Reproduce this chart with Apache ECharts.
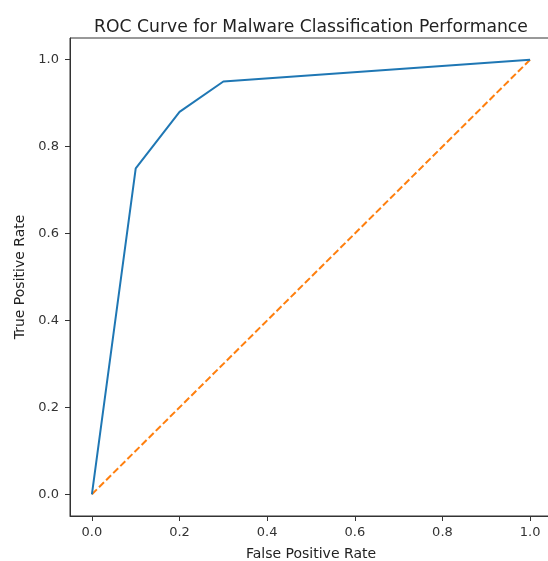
<!DOCTYPE html>
<html>
<head>
<meta charset="utf-8">
<script src="https://cdn.jsdelivr.net/npm/echarts@6/dist/echarts.min.js"></script>
<style>
html,body{margin:0;padding:0;background:#fff;}
#c{width:548px;height:561px;}
</style>
</head>
<body>
<div id="c"></div>
<script>
const fpr = [0.0, 0.1, 0.2, 0.3, 1.0];
const tpr = [0.0, 0.75, 0.88, 0.95, 1.0];
const chanceX = [0.0, 1.0];
const chanceY = [0.0, 1.0];
const tickValues = [0.0, 0.2, 0.4, 0.6, 0.8, 1.0];
const titleText = 'ROC Curve for Malware Classification Performance';
const xName = 'False Positive Rate';
const yName = 'True Positive Rate';

const font = 'DejaVu Sans';
const chart = echarts.init(document.getElementById('c'), null, {renderer: 'canvas'});

function axisCommon(name, gap, margin) {
  return {
    type: 'value',
    min: -0.05,
    max: 1.05,
    name: name,
    nameLocation: 'middle',
    nameGap: gap,
    nameTextStyle: {fontFamily: font, fontSize: 14, color: '#222'},
    axisLine: {show: true, onZero: false, lineStyle: {color: '#333', width: 1}},
    axisTick: {show: true, inside: false, length: 5, customValues: tickValues,
               lineStyle: {color: '#333', width: 1}},
    axisLabel: {show: true, customValues: tickValues, margin: margin,
                fontFamily: font, fontSize: 13, color: '#333',
                formatter: v => v.toFixed(1)},
    splitLine: {show: false}
  };
}

chart.setOption({
  backgroundColor: '#fff',
  animation: false,
  title: {
    text: titleText,
    left: 306, textAlign: 'center',
    top: 14,
    textStyle: {fontFamily: font, fontSize: 17.2, fontWeight: 'normal', color: '#222'}
  },
  grid: {
    left: 70, top: 38, width: 482, height: 478,
    outerBoundsMode: 'none',
    containLabel: false,
    show: true, borderColor: '#333', borderWidth: 1, backgroundColor: '#fff'
  },
  xAxis: axisCommon(xName, 31, 10),
  yAxis: axisCommon(yName, 35, 11),
  series: [
    {
      type: 'line',
      data: fpr.map((x, i) => [x, tpr[i]]),
      showSymbol: false,
      lineStyle: {color: '#1f77b4', width: 2},
      z: 3
    },
    {
      type: 'line',
      data: chanceX.map((x, i) => [x, chanceY[i]]),
      showSymbol: false,
      lineStyle: {color: '#ff7f0e', width: 2, type: [7, 3]},
      z: 2
    }
  ]
});
</script>
</body>
</html>
